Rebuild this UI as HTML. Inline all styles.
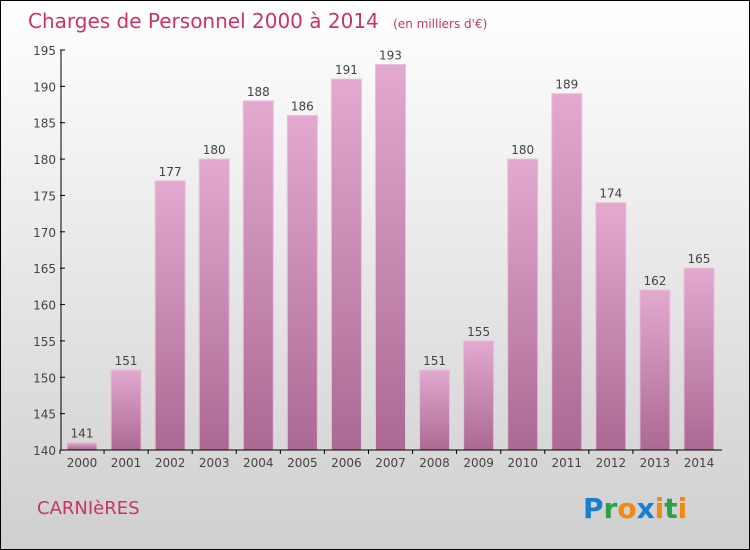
<!DOCTYPE html>
<html><head><meta charset="utf-8"><style>
body{margin:0;}
#c{width:748px;height:548px;border:1px solid #000;background:linear-gradient(#ffffff,#cfcfcf);position:relative;overflow:hidden;font-family:"DejaVu Sans","Liberation Sans",sans-serif;}
svg{position:absolute;left:0;top:0}
</style></head><body>
<div id="c">
<svg id="s" width="748" height="548">
<defs><linearGradient id="g" x1="0" y1="0" x2="0" y2="1"><stop offset="0" stop-color="#e3a9cf"/><stop offset="1" stop-color="#ab6994"/></linearGradient></defs>
<text x="27" y="27" font-size="20" fill="#c8336a">Charges de Personnel 2000 à 2014 <tspan font-size="12" dx="8">(en milliers d'€)</tspan></text>
<text x="36" y="513" font-size="18" fill="#c8336a">CARNIèRES</text>
<g font-size="28" font-weight="bold">
<text x="582" y="517"><tspan fill="#1a7fd0">P</tspan><tspan fill="#2ba048">r</tspan><tspan fill="#f08a10">o</tspan><tspan fill="#1a7fd0">x</tspan><tspan fill="#f08a10">i</tspan><tspan fill="#2ba048">t</tspan><tspan fill="#f08a10">i</tspan></text>
</g>
</svg>
</div>
<script>
const years=["2000","2001","2002","2003","2004","2005","2006","2007","2008","2009","2010","2011","2012","2013","2014"];
const values=[141,151,177,180,188,186,191,193,151,155,180,189,174,162,165];
const yTicks=[140,145,150,155,160,165,170,175,180,185,190,195];
const NS="http://www.w3.org/2000/svg";
const s=document.getElementById('s');
const y0=449,ppu=400/55,ymin=140;
function y(v){return y0-(v-ymin)*ppu;}
function x(i){return 66+44.07*i;}
function el(t,a){const e=document.createElementNS(NS,t);for(const k in a)e.setAttribute(k,a[k]);s.appendChild(e);return e;}
values.forEach((v,i)=>{
 const r=el('rect',{x:x(i),y:y(v),width:30,height:y0-y(v),fill:'url(#g)',stroke:'#e8c0da','stroke-width':1});
 
 
 const t=el('text',{x:x(i)+15,y:y(v)-5,'font-size':12,'text-anchor':'middle',fill:'#444'});
 t.textContent=values[i];
 
 
 const xl=el('text',{x:x(i)+15,y:466,'font-size':12,'text-anchor':'middle',fill:'#444'});
 xl.textContent=years[i];
 
 
 const tk=el('line',{x1:x(i)-7,x2:x(i)-7,y1:y0,y2:y0+4,stroke:'#000'});
 
 
});
yTicks.forEach(v=>{
 const t=el('text',{x:55,y:y(v)+5,'font-size':12,'text-anchor':'end',fill:'#444'});
 t.textContent=v;
 
 
 const l=el('line',{x1:59,x2:64,y1:y(v),y2:y(v),stroke:'#000'});
 
 
});
const ya=el('line',{x1:60,x2:60,y1:y(195),y2:y0,stroke:'#000'});


const xa=el('line',{x1:60,x2:721,y1:y0,y2:y0,stroke:'#000'});


</script>
</body></html>
